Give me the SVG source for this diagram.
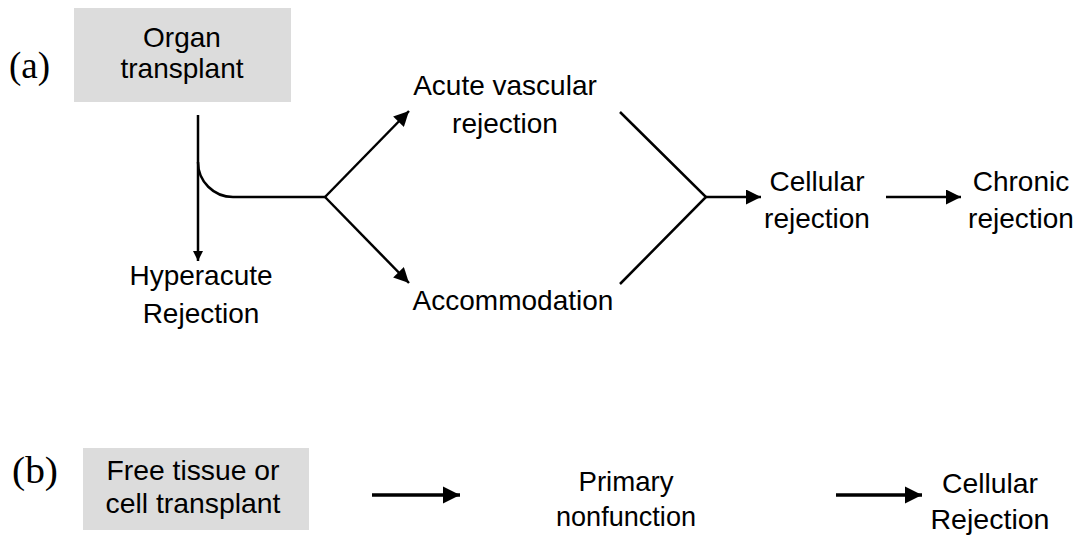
<svg xmlns="http://www.w3.org/2000/svg" width="1085" height="538" viewBox="0 0 1085 538">
<defs>
<marker id="ah" viewBox="0 0 10 10" refX="10" refY="5" markerWidth="17" markerHeight="15" markerUnits="userSpaceOnUse" orient="auto"><path d="M0,0 L10,5 L0,10 z" fill="#000"/></marker>
<marker id="ahb" viewBox="0 0 10 10" refX="10" refY="5" markerWidth="17" markerHeight="18" markerUnits="userSpaceOnUse" orient="auto"><path d="M0,0 L10,5 L0,10 z" fill="#000"/></marker>
<marker id="ahs" viewBox="0 0 10 10" refX="10" refY="5" markerWidth="10" markerHeight="14" markerUnits="userSpaceOnUse" orient="auto"><path d="M0,0 L10,5 L0,10 z" fill="#000"/></marker>
</defs>
<style>
.t{font-family:"Liberation Sans",Arial,sans-serif;font-size:28px;fill:#000;text-anchor:middle}
.n{font-family:"Liberation Sans",Arial,sans-serif;font-size:28px;fill:#000;text-anchor:middle}
.lab{font-family:"Liberation Serif","Times New Roman",serif;font-size:37px;fill:#000}
.box{fill:#dcdcdc}
.c{fill:none;stroke:#000;stroke-width:2.5}
.cb{fill:none;stroke:#000;stroke-width:3.5}
</style>
<rect width="1085" height="538" fill="#fff"/>
<text class="lab" x="9" y="78">(a)</text>
<text class="lab" x="12" y="483" textLength="46" lengthAdjust="spacingAndGlyphs">(b)</text>
<g id="organ">
<rect class="box" x="74" y="8" width="217" height="94"/>
<text class="t" x="182" y="47">Organ</text>
<text class="t" x="182" y="78">transplant</text>
</g>
<g id="hyperacute">
<text class="t" x="201" y="285">Hyperacute</text>
<text class="t" x="201" y="323">Rejection</text>
</g>
<g id="acute">
<text class="t" x="505" y="95">Acute vascular</text>
<text class="t" x="505" y="133">rejection</text>
</g>
<g id="accommodation">
<text class="t" x="513" y="310">Accommodation</text>
</g>
<g id="cellular">
<text class="t" x="817" y="191">Cellular</text>
<text class="t" x="817" y="228">rejection</text>
</g>
<g id="chronic">
<text class="t" x="1021" y="191">Chronic</text>
<text class="t" x="1021" y="228">rejection</text>
</g>
<g id="free">
<rect class="box" x="83" y="448" width="226" height="82"/>
<text class="n" x="193" y="480" textLength="173" lengthAdjust="spacingAndGlyphs">Free tissue or</text>
<text class="n" x="193" y="513" textLength="175" lengthAdjust="spacingAndGlyphs">cell transplant</text>
</g>
<g id="primary">
<text class="n" x="626" y="491" textLength="95" lengthAdjust="spacingAndGlyphs">Primary</text>
<text class="n" x="626" y="526" textLength="140" lengthAdjust="spacingAndGlyphs">nonfunction</text>
</g>
<g id="cellular-b">
<text class="n" x="990" y="493" textLength="96" lengthAdjust="spacingAndGlyphs">Cellular</text>
<text class="n" x="990" y="529" textLength="119" lengthAdjust="spacingAndGlyphs">Rejection</text>
</g>
<g id="connectors">
<path class="c" d="M198,115 V261" marker-end="url(#ahs)"/>
<path class="c" d="M198,162 A35,35 0 0 0 233,197 H325"/>
<path class="c" d="M325,197 L409,111" marker-end="url(#ah)"/>
<path class="c" d="M325,197 L409,283" marker-end="url(#ah)"/>
<path class="c" d="M620,112 L706,197 L620,284"/>
<path class="c" d="M706,197 H761" marker-end="url(#ah)"/>
<path class="c" d="M886,197 H961" marker-end="url(#ah)"/>
<path class="cb" d="M372,495 H460" marker-end="url(#ahb)"/>
<path class="cb" d="M836,495 H922" marker-end="url(#ahb)"/>
</g>
</svg>
